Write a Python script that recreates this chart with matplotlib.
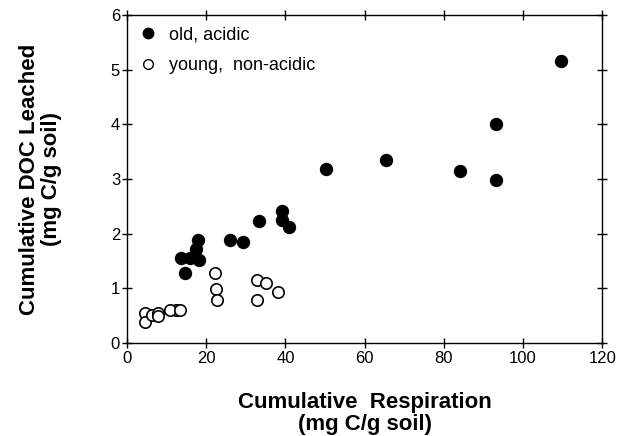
import matplotlib
matplotlib.use('Agg')
import matplotlib.pyplot as plt
from matplotlib.lines import Line2D

plt.rcParams['font.family'] = ['Liberation Sans', 'DejaVu Sans']

# old, acidic soils (filled)
old_resp = [109.5, 93.1, 93.1, 84.2, 65.3, 50.3, 39.2, 39.2, 40.8, 33.4,
            26.0, 29.3, 17.8, 17.4, 13.6, 16.0, 18.1, 14.7]
old_doc = [5.16, 4.01, 2.98, 3.15, 3.34, 3.19, 2.42, 2.25, 2.12, 2.24,
           1.89, 1.84, 1.89, 1.72, 1.55, 1.55, 1.52, 1.28]

# young, non-acidic soils (open)
young_resp = [22.3, 22.4, 22.7, 32.7, 35.0, 38.1, 32.7, 12.4, 10.9, 13.5,
              4.6, 4.6, 6.3, 7.8, 7.8]
young_doc = [1.29, 0.99, 0.78, 1.16, 1.10, 0.94, 0.78, 0.61, 0.60, 0.61,
             0.55, 0.38, 0.52, 0.55, 0.50]

x_ticks = [0, 20, 40, 60, 80, 100, 120]
y_ticks = [0, 1, 2, 3, 4, 5, 6]

fig = plt.figure(figsize=(6.30, 4.36), dpi=100)
ax = fig.add_axes([0.2016, 0.213, 0.7544, 0.753])

ax.plot(young_resp, young_doc, 'o', mfc='white', mec='black', mew=1.2,
        ms=8.2, ls='none')
ax.plot(old_resp, old_doc, 'o', mfc='black', mec='black', ms=8.6, ls='none')

ax.set_xlim(0, 120)
ax.set_ylim(0, 6)
ax.set_xticks(x_ticks)
ax.set_yticks(y_ticks)
ax.tick_params(direction='inout', length=7, width=1, labelsize=12,
               top=True, right=True, colors='black')
ax.tick_params(axis='x', pad=2)
ax.tick_params(axis='y', pad=1.5)
for s in ax.spines.values():
    s.set_linewidth(1)

ax.set_xlabel('Cumulative  Respiration\n(mg C/g soil)', fontsize=16,
              fontweight='bold', labelpad=19, linespacing=1.05)
ax.set_ylabel('Cumulative DOC Leached\n(mg C/g soil)', fontsize=16,
              fontweight='bold', labelpad=35, linespacing=1.05)

handles = [Line2D([], [], marker='o', ls='none', mfc='black', mec='black', ms=7.5),
           Line2D([], [], marker='o', ls='none', mfc='white', mec='black',
                  mew=1, ms=7)]
ax.legend(handles, ['old, acidic', 'young,  non-acidic'], loc='upper left',
          frameon=False, fontsize=13, handletextpad=0.7, labelspacing=0.75,
          borderaxespad=0.25, handlelength=1.0)

plt.savefig('out.png', dpi=100)
